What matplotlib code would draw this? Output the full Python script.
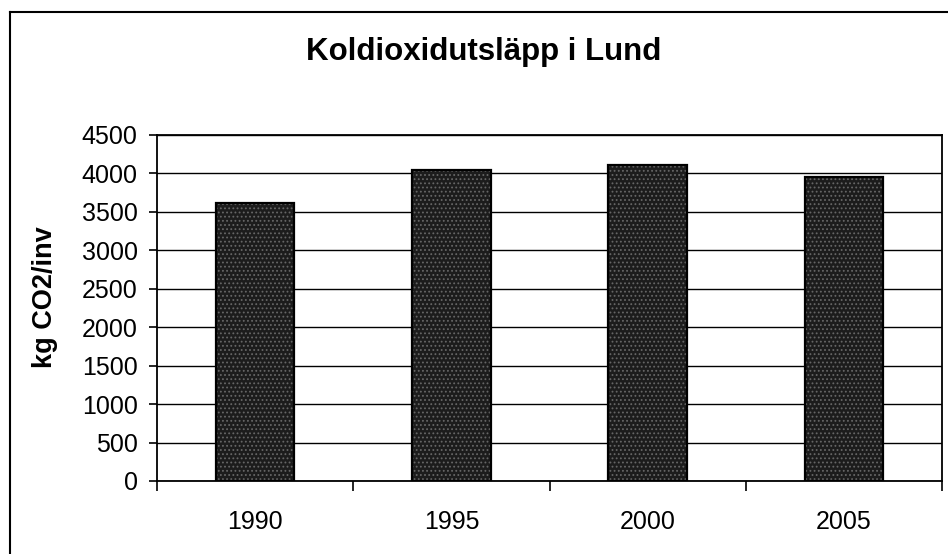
import matplotlib
matplotlib.use("Agg")
import matplotlib.pyplot as plt
from matplotlib.lines import Line2D

years = ["1990", "1995", "2000", "2005"]
values = [3610, 4050, 4110, 3950]
yticks = [0, 500, 1000, 1500, 2000, 2500, 3000, 3500, 4000, 4500]

plt.rcParams['font.family'] = ['Liberation Sans', 'DejaVu Sans']
plt.rcParams['hatch.linewidth'] = 0.8

fig = plt.figure(figsize=(9.48, 5.54), dpi=100)
ax = fig.add_axes([157/948, 1-481/554, (942-157)/948, (481-135)/554])

x = list(range(len(years)))
ax.bar(x, values, width=0.4, color='#1c1c1c', edgecolor='#666666', hatch='....', linewidth=0, zorder=3)
ax.bar(x, values, width=0.4, fill=False, edgecolor='black', linewidth=1.6, zorder=4)

ax.set_xlim(-0.5, len(years) - 0.5)
ax.set_ylim(0, 4500)
ax.set_yticks(yticks)
ax.set_yticklabels([str(v) for v in yticks], fontsize=18)
ax.yaxis.grid(True, color='black', linewidth=1.0, zorder=0)
ax.set_axisbelow(True)

ax.set_xticks([i - 0.5 for i in range(len(years) + 1)])
ax.set_xticklabels([])
ax.set_xticks(x, minor=True)
ax.set_xticklabels(years, minor=True, fontsize=18)
ax.tick_params(axis='x', which='major', direction='out', length=7, width=1.2)
ax.tick_params(axis='x', which='minor', length=0, pad=21)
ax.tick_params(axis='y', direction='out', length=6, width=1.2, pad=8)

for s in ax.spines.values():
    s.set_color('black')
    s.set_linewidth(1.3)

ax.set_ylabel("kg CO2/inv", fontsize=19.5, fontweight='bold')
ax.yaxis.set_label_coords(-0.126, 0.53)

fig.text(484/948, 1-52/554, "Koldioxidutsläpp i Lund", fontsize=22.5, fontweight='bold',
         ha='center', va='center')

bx = 10/948
by = 1-12/554
fig.add_artist(Line2D([bx, bx], [0, by], transform=fig.transFigure, color='black', linewidth=1.5))
fig.add_artist(Line2D([bx, 1], [by, by], transform=fig.transFigure, color='black', linewidth=1.5))

fig.savefig("out.png", dpi=100, facecolor='white')
